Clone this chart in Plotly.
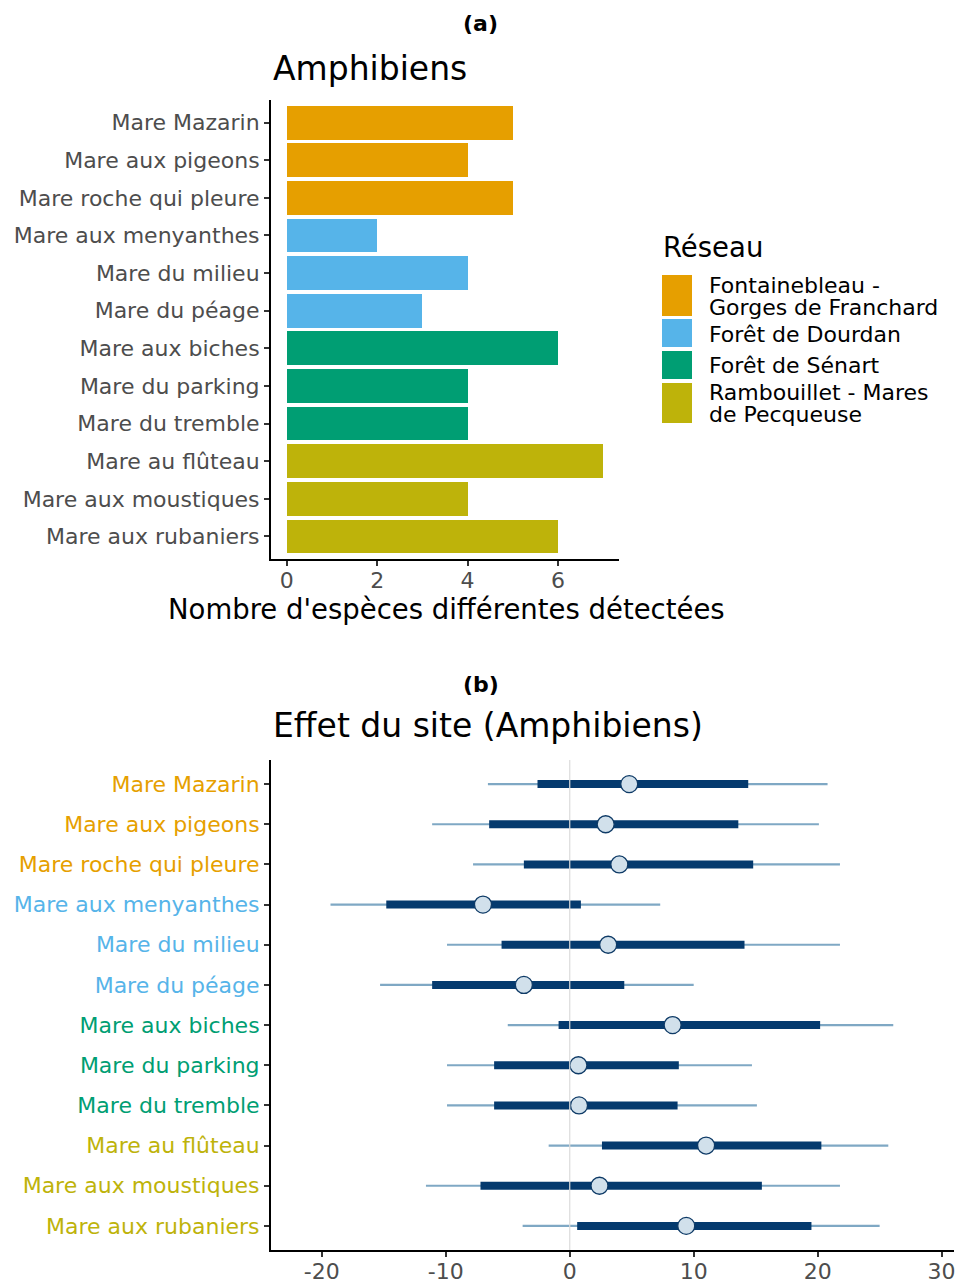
import plotly.graph_objects as go

# ---------------- data ----------------
sites = ["Mare Mazarin", "Mare aux pigeons", "Mare roche qui pleure",
         "Mare aux menyanthes", "Mare du milieu", "Mare du péage",
         "Mare aux biches", "Mare du parking", "Mare du tremble",
         "Mare au flûteau", "Mare aux moustiques", "Mare aux rubaniers"]
reseau = ["Fontainebleau - Gorges de Franchard"] * 3 + ["Forêt de Dourdan"] * 3 + \
         ["Forêt de Sénart"] * 3 + ["Rambouillet - Mares de Pecqueuse"] * 3
n_especes = [5, 4, 5, 2, 4, 3, 6, 4, 4, 7, 4, 6]

reseaux = ["Fontainebleau - Gorges de Franchard", "Forêt de Dourdan",
           "Forêt de Sénart", "Rambouillet - Mares de Pecqueuse"]
reseau_lines = [["Fontainebleau -", "Gorges de Franchard"], ["Forêt de Dourdan"],
                ["Forêt de Sénart"], ["Rambouillet - Mares", "de Pecqueuse"]]
colors = {"Fontainebleau - Gorges de Franchard": "#E69F00",
          "Forêt de Dourdan": "#56B4E9",
          "Forêt de Sénart": "#009E73",
          "Rambouillet - Mares de Pecqueuse": "#BEB30A"}

effet_med = [4.8, 2.9, 4.0, -7.0, 3.1, -3.7, 8.3, 0.7, 0.75, 11.0, 2.4, 9.4]
effet_lo80 = [-2.6, -6.5, -3.7, -14.8, -5.5, -11.1, -0.9, -6.1, -6.1, 2.6, -7.2, 0.6]
effet_hi80 = [14.4, 13.6, 14.8, 0.9, 14.1, 4.4, 20.2, 8.8, 8.7, 20.3, 15.5, 19.5]
effet_lo95 = [-6.6, -11.1, -7.8, -19.3, -9.9, -15.3, -5.0, -9.9, -9.9, -1.7, -11.6, -3.8]
effet_hi95 = [20.8, 20.1, 21.8, 7.3, 21.8, 10.0, 26.1, 14.7, 15.1, 25.7, 21.8, 25.0]

x_ticks_a = [0, 2, 4, 6]
x_ticks_b = [-20, -10, 0, 10, 20, 30]
x_ticktext_b = ["-20", "-10", "0", "10", "20", "30"]

# ---------------- layout helpers ----------------
W, H = 956, 1281
def xp(px):
    return px / W
def yp(py):
    return 1 - py / H

FONT = "DejaVu Sans"
TICKGRAY = "#4D4D4D"
TICK_SIZE = 22
TITLE_SIZE = 33
AXT_SIZE = 27.5

fig = go.Figure()

# ---- panel (a): bars ----
for r in reseaux:
    ys = [s for s, rr in zip(sites, reseau) if rr == r]
    xs = [v for v, rr in zip(n_especes, reseau) if rr == r]
    fig.add_trace(go.Bar(x=xs, y=ys, orientation="h", width=0.9,
                         marker=dict(color=colors[r], line=dict(width=0)),
                         name=r, showlegend=False, xaxis="x", yaxis="y"))

# ---- panel (b): intervals ----
def seg(lo, hi):
    xs, ys = [], []
    for a, b, s in zip(lo, hi, sites):
        xs += [a, b, None]
        ys += [s, s, None]
    return xs, ys

fig.add_trace(go.Scatter(x=[0, 0], y=[-0.6, 11.6], mode="lines",
                         line=dict(color="#DCDCDC", width=1.2),
                         showlegend=False, xaxis="x2", yaxis="y3", hoverinfo="skip"))
xs, ys = seg(effet_lo95, effet_hi95)
fig.add_trace(go.Scatter(x=xs, y=ys, mode="lines",
                         line=dict(color="#7FA8C4", width=2.2),
                         showlegend=False, xaxis="x2", yaxis="y2"))
xs, ys = seg(effet_lo80, effet_hi80)
fig.add_trace(go.Scatter(x=xs, y=ys, mode="lines",
                         line=dict(color="#053A6E", width=8),
                         showlegend=False, xaxis="x2", yaxis="y2"))
fig.add_trace(go.Scatter(x=effet_med, y=sites, mode="markers",
                         marker=dict(size=17, color="#D1E0EB",
                                     line=dict(color="#0E3A66", width=1.3)),
                         showlegend=False, xaxis="x2", yaxis="y2"))

ticktext_b = ["<span style='color:%s'>%s</span>" % (colors[r], s)
              for s, r in zip(sites, reseau)]

axis_common = dict(showgrid=False, zeroline=False, showline=True, automargin=False,
                   linecolor="black", linewidth=2, ticks="outside",
                   ticklen=5, tickwidth=1.5, tickcolor="#333333")

fig.update_layout(
    width=W, height=H, margin=dict(l=0, r=0, t=0, b=0, pad=0),
    paper_bgcolor="white", plot_bgcolor="white",
    font=dict(family=FONT, color="black"),
    bargap=0,
    xaxis=dict(domain=[xp(271), xp(619)], range=[-0.35, 7.35],
               tickvals=x_ticks_a, anchor="y", ticklabelstandoff=-4,
               tickfont=dict(size=TICK_SIZE, color=TICKGRAY, family=FONT), **axis_common),
    yaxis=dict(domain=[yp(559), yp(100)], type="category",
               categoryorder="array", categoryarray=sites,
               range=[11.6, -0.6], anchor="x",
               tickfont=dict(size=TICK_SIZE, color=TICKGRAY, family=FONT), **axis_common),
    xaxis2=dict(domain=[xp(271), xp(954)], range=[-24.1, 31.0],
                tickvals=x_ticks_b, ticktext=x_ticktext_b, anchor="y2",
                ticklabelstandoff=-4,
                tickfont=dict(size=TICK_SIZE, color=TICKGRAY, family=FONT), **axis_common),
    yaxis2=dict(domain=[yp(1250), yp(760)], type="category",
                categoryorder="array", categoryarray=sites,
                tickvals=sites, ticktext=ticktext_b,
                range=[11.6, -0.6], anchor="x2",
                tickfont=dict(size=TICK_SIZE, family=FONT), **axis_common),
    yaxis3=dict(domain=[yp(1250), yp(760)], range=[11.6, -0.6], overlaying="y2",
                visible=False, anchor="x2", automargin=False),
)

ann = []
def text(x, y, s, size, xanchor="left", bold=False, color="black", family=FONT):
    ann.append(dict(x=xp(x), y=yp(y), xref="paper", yref="paper",
                    text=("<b>%s</b>" % s) if bold else s, showarrow=False,
                    xanchor=xanchor, yanchor="middle", align="left",
                    font=dict(size=size, color=color, family=family)))

text(481, 23, "(a)", 22, xanchor="center", bold=True)
text(271, 68, "Amphibiens", TITLE_SIZE)
text(446, 609, "Nombre d'espèces différentes détectées", AXT_SIZE, xanchor="center")
text(661, 247, "Réseau", AXT_SIZE)
text(481, 684, "(b)", 22, xanchor="center", bold=True)
text(271, 725, "Effet du site (Amphibiens)", TITLE_SIZE)

# manual legend (keys drawn as rectangles, labels as text lines)
key_spans = [(275, 316), (319, 347), (351, 379), (383, 423)]
line_y = [[285, 307], [334], [365], [392, 414]]
shapes = []
for r, lines, (t, b), ly in zip(reseaux, reseau_lines, key_spans, line_y):
    shapes.append(dict(type="rect", xref="paper", yref="paper",
                       x0=xp(662), x1=xp(692), y0=yp(b), y1=yp(t),
                       fillcolor=colors[r], line=dict(width=0)))
    for s, y in zip(lines, ly):
        text(707, y, s, TICK_SIZE)

fig.update_layout(annotations=ann, shapes=shapes)
fig.write_html("out.html", config={"displayModeBar": False},
               post_script="document.body.style.margin='0';")
